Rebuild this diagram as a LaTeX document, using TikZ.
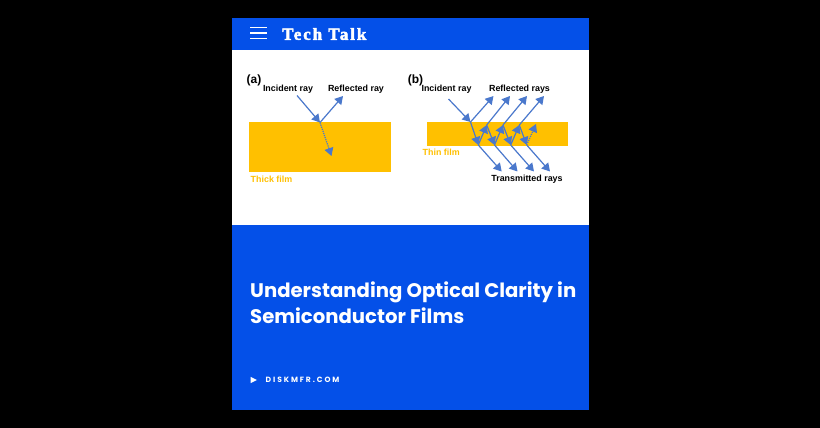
\documentclass[tikz,border=0pt]{standalone}
\usepackage{fontspec}
\setmainfont{Liberation Sans}
\newfontfamily\headfont{Poppins}
\newfontfamily\titlefont[FakeBold=2.5]{Liberation Serif}
\usetikzlibrary{arrows.meta}
\definecolor{brandblue}{HTML}{0450E8}
\definecolor{filmgold}{HTML}{FFC000}
\definecolor{rayblue}{HTML}{4A78CC}
\tikzset{
 film/.style={fill=filmgold,draw=none},
 ray/.style={draw=rayblue,line width=1.2pt,-{Triangle[length=8pt,width=9pt]}},
 dotray/.style={ray,densely dotted},
 lab/.style={font=\fontsize{8.9}{10}\selectfont\bfseries,text=black,inner sep=0pt},
 filmlab/.style={font=\fontsize{8.9}{10}\selectfont\bfseries,text=filmgold,inner sep=0pt},
 tag/.style={font=\fontsize{12}{14}\selectfont\bfseries,text=black,inner sep=0pt},
}
\begin{document}
\begin{tikzpicture}[x=1pt,y=-1pt]
\useasboundingbox (0,0) rectangle (820,428);
\fill[black] (0,0) rectangle (820,428);
\fill[brandblue] (231.5,18) rectangle (588.5,50);
\fill[white] (231.5,50) rectangle (588.5,224.5);
\fill[brandblue] (231.5,224.5) rectangle (588.5,410);
\draw[white,line width=1.7pt] (250,27.5) -- (267,27.5) (250,33) -- (267,33) (250,38.5) -- (267,38.5);
\node[anchor=west,inner sep=0pt,text=white] (brand) at (282,34) {\titlefont\fontsize{17}{18}\selectfont\bfseries\addfontfeature{LetterSpace=11}Tech Talk};
% panel a
\node[film,minimum width=141.4pt,minimum height=49.7pt,inner sep=0pt] (thick) at (320,147.2) {};
\node[tag] (ta) at (254,80) {(a)};
\node[lab] (ia) at (288,89.5) {Incident ray};
\node[lab] (ra) at (356,89.5) {Reflected ray};
\node[filmlab,anchor=west] (tf) at (250.5,179) {Thick film};
\coordinate (a0) at (297,95.5);
\coordinate (a1) at (320,122.5);
\coordinate (a2) at (343,96);
\coordinate (a3) at (331.5,156);
\draw[ray] (a0) -- (a1);
\draw[ray] (a1) -- (a2);
\draw[dotray] (a1) -- (a3);
% panel b
\node[film,minimum width=141.6pt,minimum height=23.4pt,inner sep=0pt] (thin) at (497.5,134) {};
\node[tag] (tb) at (415.5,80) {(b)};
\node[lab] (ib) at (446.5,89.5) {Incident ray};
\node[lab] (rb) at (519.5,89.5) {Reflected rays};
\node[lab] (trb) at (527,179) {Transmitted rays};
\node[filmlab,anchor=west] (thf) at (422.5,152) {Thin film};
\coordinate (i0) at (448.5,99);
\coordinate (t1) at (470.5,122);
\coordinate (t2) at (486.7,125);
\coordinate (t3) at (503,125);
\coordinate (t4) at (519.3,125);
\coordinate (t5) at (536,124);
\coordinate (b1) at (478.3,145);
\coordinate (b2) at (494.5,145);
\coordinate (b3) at (510.7,145);
\coordinate (b4) at (526.7,145);
\coordinate (r1) at (493.5,96);
\coordinate (r2) at (510,96);
\coordinate (r3) at (527,96);
\coordinate (r4) at (544,96);
\coordinate (d1) at (501.7,171.5);
\coordinate (d2) at (517.5,171.5);
\coordinate (d3) at (534,171.5);
\coordinate (d4) at (550,171.5);
\draw[ray] (i0) -- (t1);
\draw[ray] (t1) -- (r1);
\draw[ray] (t2) -- (r2);
\draw[ray] (t3) -- (r3);
\draw[ray] (t4) -- (r4);
\draw[ray] (t1) -- (b1);
\draw[ray] (b1) -- (t2);
\draw[ray] (t2) -- (b2);
\draw[ray] (b2) -- (t3);
\draw[ray] (t3) -- (b3);
\draw[ray] (b3) -- (t4);
\draw[ray] (t4) -- (b4);
\draw[dotray] (b4) -- (t5);
\draw[ray] (b1) -- (d1);
\draw[ray] (b2) -- (d2);
\draw[ray] (b3) -- (d3);
\draw[ray] (b4) -- (d4);
% lower panel
\node[anchor=west,align=left,inner sep=0pt,text=white,font=\headfont\fontsize{19.65}{26}\selectfont\bfseries] (title) at (250,303) {Understanding Optical Clarity in\\Semiconductor Films};
\fill[white] (250.5,376.8) -- (257,380) -- (250.5,383.2) -- cycle;
\node[anchor=west,inner sep=0pt,text=white,font=\headfont\fontsize{7.6}{9}\selectfont\bfseries\addfontfeature{LetterSpace=25}] (site) at (265.5,380) {DISKMFR.COM};
\end{tikzpicture}
\end{document}
